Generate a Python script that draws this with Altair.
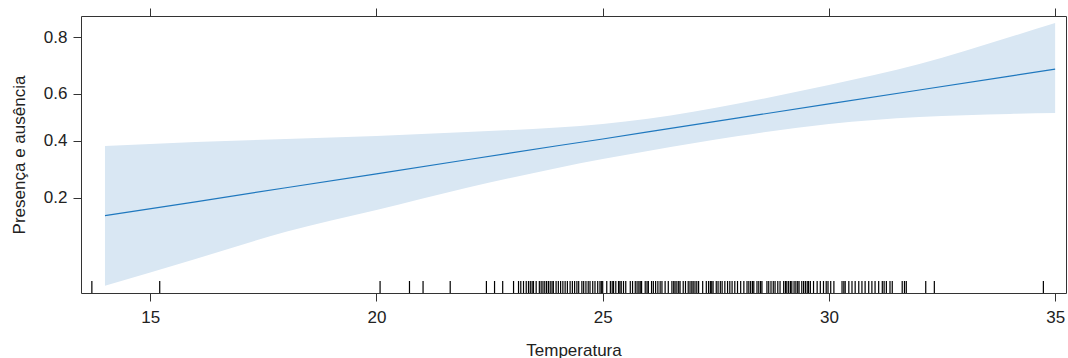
import altair as alt
import pandas as pd
import math

# Fitted probability and 95% band (probability scale)
temps = [14, 16, 18, 20, 22, 24, 25, 26, 28, 30, 32, 34, 35]
fit = [0.155, 0.189, 0.229, 0.274, 0.325, 0.380, 0.408, 0.438, 0.498, 0.558, 0.616, 0.671, 0.697]
upper = [0.379, 0.396, 0.408, 0.420, 0.437, 0.457, 0.472, 0.494, 0.560, 0.636, 0.715, 0.800, 0.836]
lower = [0.052, 0.080, 0.122, 0.168, 0.229, 0.295, 0.328, 0.359, 0.420, 0.472, 0.502, 0.515, 0.519]

# Rug of observed temperatures
rug = [13.71, 15.21, 20.08, 20.73, 21.03, 21.63, 22.43, 22.61, 22.79, 23.03, 23.14, 23.19,
       23.25, 23.31, 23.36, 23.40, 23.44, 23.47, 23.53, 23.60, 23.64, 23.68, 23.72, 23.76,
       23.80, 23.84, 23.88, 23.91, 23.97, 24.02, 24.07, 24.12, 24.17, 24.22, 24.28, 24.33,
       24.38, 24.43, 24.47, 24.54, 24.58, 24.63, 24.68, 24.72, 24.78, 24.83, 24.89, 24.94,
       24.97, 25.00, 25.09, 25.17, 25.21, 25.24, 25.29, 25.35, 25.38, 25.41, 25.46, 25.51,
       25.61, 25.66, 25.72, 25.76, 25.80, 25.83, 25.86, 25.94, 25.98, 26.01, 26.08, 26.12,
       26.17, 26.22, 26.27, 26.31, 26.38, 26.45, 26.53, 26.57, 26.60, 26.64, 26.68, 26.71,
       26.78, 26.83, 26.89, 26.93, 26.97, 27.00, 27.04, 27.08, 27.12, 27.21, 27.29, 27.34,
       27.38, 27.41, 27.44, 27.51, 27.55, 27.60, 27.64, 27.70, 27.76, 27.81, 27.86, 27.92,
       27.98, 28.05, 28.12, 28.19, 28.23, 28.27, 28.31, 28.34, 28.41, 28.45, 28.49, 28.52,
       28.63, 28.67, 28.72, 28.77, 28.81, 28.87, 28.92, 29.00, 29.04, 29.07, 29.11, 29.15,
       29.18, 29.23, 29.27, 29.31, 29.34, 29.40, 29.44, 29.48, 29.52, 29.55, 29.59, 29.66,
       29.74, 29.81, 29.88, 29.94, 29.98, 30.04, 30.11, 30.29, 30.33, 30.36, 30.44, 30.51,
       30.58, 30.66, 30.73, 30.80, 30.88, 30.95, 31.02, 31.10, 31.18, 31.22, 31.27, 31.35,
       31.40, 31.62, 31.67, 31.71, 32.14, 32.33, 34.74]

x_ticks = [15, 20, 25, 30, 35]
y_tick_probs = [0.2, 0.4, 0.6, 0.8]

band_df = pd.DataFrame({"temp": temps, "fit": fit, "upper": upper, "lower": lower})
rug_df = pd.DataFrame({"t": rug})

y_tick_vals = [math.log(p / (1 - p)) for p in y_tick_probs]

W, H = 985, 277
FONT = "Liberation Sans"
TXT = "#222222"

xs = alt.Scale(domain=[13.47, 35.24], nice=False, zero=False)
ys = alt.Scale(domain=[-3.03, 1.75], nice=False, zero=False)

left_axis = alt.Axis(values=y_tick_vals,
                     labelExpr="format(1/(1+exp(-datum.value)), '.1f')",
                     grid=False, domain=False, tickSize=8, labelPadding=6,
                     titlePadding=15)
bottom_axis = alt.Axis(values=x_ticks, orient="bottom", grid=False, domain=False,
                       tickSize=8, labelPadding=8, titlePadding=17, format="d")
top_axis = alt.Axis(values=x_ticks, orient="top", grid=False, domain=False,
                    tickSize=8, labels=False, title=None)

base = alt.Chart(band_df).transform_calculate(
    lo="log(datum.lower/(1-datum.lower))",
    hi="log(datum.upper/(1-datum.upper))",
    fl="log(datum.fit/(1-datum.fit))",
)

area = base.mark_area(color="#D9E7F3", opacity=1, interpolate="monotone").encode(
    x=alt.X("temp:Q", scale=xs, axis=bottom_axis, title="Temperatura"),
    y=alt.Y("lo:Q", scale=ys, axis=left_axis, title="Presença e ausência"),
    y2="hi:Q",
)

line = base.mark_line(color="#1F78BE", strokeWidth=1.2).encode(
    x=alt.X("temp:Q", scale=xs, axis=top_axis),
    y=alt.Y("fl:Q", scale=ys, axis=left_axis, title="Presença e ausência"),
)

rug_layer = alt.Chart(rug_df).mark_rule(color="#000000", strokeWidth=1.2).encode(
    x=alt.X("t:Q", scale=xs, axis=None),
    y=alt.value(H - 12),
    y2=alt.value(H),
)

chart = alt.layer(area, line, rug_layer).resolve_axis(x="independent").properties(
    width=W, height=H,
    padding={"left": 81, "top": 16, "right": 2, "bottom": 65},
    autosize=alt.AutoSizeParams(type="none"),
).configure_view(
    stroke="#333333", strokeWidth=1
).configure_axis(
    labelFont=FONT, titleFont=FONT, labelFontSize=17, titleFontSize=17,
    labelColor=TXT, titleColor=TXT, tickColor="#333333", titleFontWeight="normal",
)

chart.save("out.html", embed_options={"renderer": "svg", "actions": False})
